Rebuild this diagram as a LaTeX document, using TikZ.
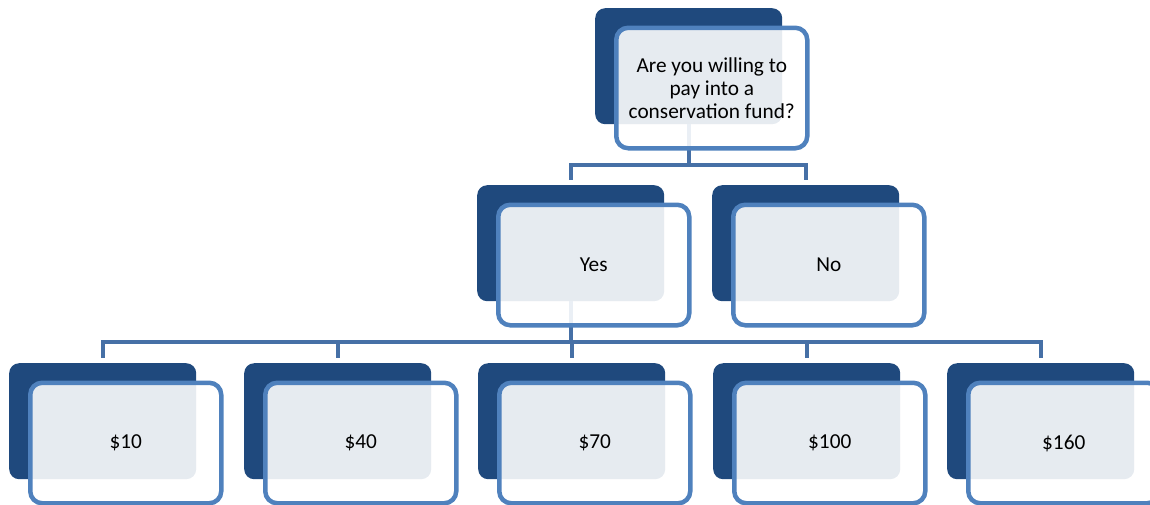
\documentclass[tikz,border=0pt]{standalone}
\usepackage{fontspec}
\setmainfont{Carlito}
\definecolor{backblue}{RGB}{31,73,125}
\definecolor{frontblue}{RGB}{79,129,189}
\definecolor{connblue}{RGB}{70,112,166}
\tikzset{
  backbox/.style={rectangle, rounded corners=10pt, fill=backblue, draw=none,
    minimum width=187pt, minimum height=116pt, inner sep=0pt, anchor=north west},
  frontbox/.style={rectangle, rounded corners=12pt, fill=white, fill opacity=0.89,
    text opacity=1, draw=frontblue, line width=4.5pt,
    minimum width=191pt, minimum height=120.5pt, inner sep=0pt, anchor=north west,
    font=\fontsize{21.3}{23}\selectfont, align=center, text=black},
  conn/.style={draw=connblue, line width=4pt, shorten >=5pt}
}
\begin{document}
\begin{tikzpicture}[x=1pt,y=-1pt]
\useasboundingbox (0,0) rectangle (1150,504);
\clip (0,0) rectangle (1150,504);
% back boxes
\node[backbox] (top) at (595,8) {};
\node[backbox] (yes) at (477,185) {};
\node[backbox] (no) at (712,185) {};
\node[backbox] (b10) at (9,363) {};
\node[backbox] (b40) at (244,363) {};
\node[backbox] (b70) at (478,363) {};
\node[backbox] (b100) at (713,363) {};
\node[backbox] (b160) at (947,363) {};
% connectors
\draw[conn] (top.south) -- ++(0,41) -| (yes.north);
\draw[conn] (top.south) -- ++(0,41) -| (no.north);
\draw[conn] (yes.south) -- ++(0,41) -| (b10.north);
\draw[conn] (yes.south) -- ++(0,41) -| (b40.north);
\draw[conn] (yes.south) -- ++(0,41) -| (b70.north);
\draw[conn] (yes.south) -- ++(0,41) -| (b100.north);
\draw[conn] (yes.south) -- ++(0,41) -| (b160.north);
% front boxes
\node[frontbox] (topf) at (614,25.5) {Are you willing to\\pay into a\\conservation fund?};
\node[frontbox] (yesf) at (496,202.5) {Yes};
\node[frontbox] (nof) at (731,202.5) {No};
\node[frontbox] (f10) at (28,380.5) {\$10};
\node[frontbox] (f40) at (263,380.5) {\$40};
\node[frontbox] (f70) at (497,380.5) {\$70};
\node[frontbox] (f100) at (732,380.5) {\$100};
\node[frontbox] (f160) at (966,380.5) {\$160};
\end{tikzpicture}
\end{document}
